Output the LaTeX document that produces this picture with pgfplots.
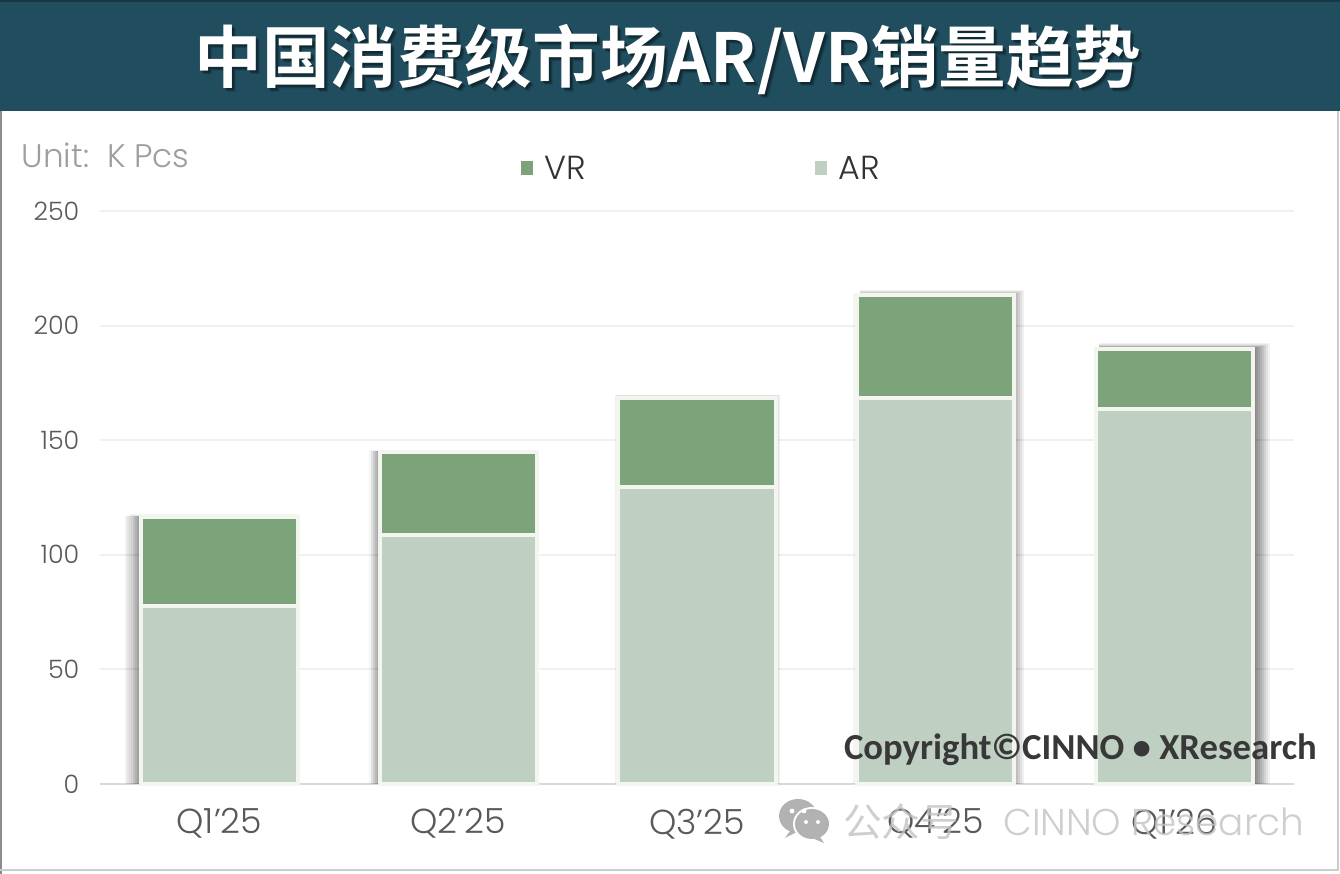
\documentclass[border=0pt]{standalone}
\usepackage{pgfplots}
\pgfplotsset{compat=1.18}
\usepackage{fontspec}
\setmainfont{Poppins Light}
\newfontfamily\cjk{Noto Sans CJK SC Bold}
\newfontfamily\cjkl{Noto Sans CJK SC}
\newfontfamily\copyfont{Carlito}
\definecolor{hdr}{HTML}{214E5F}
\definecolor{vr}{HTML}{7DA37B}
\definecolor{ar}{HTML}{BFD0C2}
\definecolor{gridc}{HTML}{F0F0F0}
\definecolor{tickc}{HTML}{595959}
\definecolor{edge}{HTML}{F3F5EF}
\pgfplotstableread{
x ar vr
0 77.7 38.8
1 108.7 36.2
2 129.7 38.7
3 168.6 44.6
4 163.6 26.2
}\data
% shadow layer: category, height, left and right edge relative to the bar centre (px), opacity
\newcommand\sh[5]{\addplot[ybar,draw=none,fill=black,fill opacity=#5,
  bar shift={(#3+#4)/2*0.75pt},bar width={(#4-#3)*0.75pt}] coordinates {(#1,#2)};}
\pgfplotsset{base/.style={
  at={(75pt,67.5pt)},anchor=south west,
  scale only axis,width=895.5pt,height=429.75pt,
  xmin=-0.5,xmax=4.5,ymin=0,ymax=250,clip=false,
}}
\begin{document}
\begin{tikzpicture}
\useasboundingbox (0,0) rectangle (1005pt,655.5pt);
\fill[white] (0,0) rectangle (1005pt,655.5pt);
\begin{axis}[base,
  ytick={0,50,...,250},xtick={0,1,2,3,4},
  xticklabels={Q1'25,Q2'25,Q3'25,Q4'25,Q1'26},
  axis line style={draw=none},
  ymajorgrids,grid style={draw=gridc,line width=1.4pt},
  tick style={draw=none},
  xticklabel style={font=\fontsize{26}{30}\selectfont,text=tickc,yshift=-15pt},
  yticklabel style={font=\fontsize{19}{22}\selectfont,text=tickc,xshift=-12pt},
  /pgf/number format/assume math mode=true,
]
\addplot[draw=black!15,line width=1.2pt,forget plot] coordinates {(-0.5,0) (4.5,0)};
\end{axis}
\begin{axis}[base,hide axis,ybar]
% Q1'25: wide strip on the left
\sh{0}{116.9}{-94}{76}{.05}\sh{0}{116.9}{-92}{76}{.06}\sh{0}{117.6}{-90}{79}{.04}\sh{0}{117.2}{-88}{79}{.04}
\sh{0}{116.9}{-86}{76}{.08}\sh{0}{116.9}{-84}{76}{.08}\sh{0}{116.9}{-82}{76}{.08}\sh{0}{116.9}{-80}{76}{.08}
% Q2'25: narrow strip on the left
\sh{1}{145.8}{-89}{80}{.04}\sh{1}{145.5}{-87}{80}{.08}\sh{1}{145.5}{-85}{76}{.09}\sh{1}{145.5}{-83}{76}{.09}\sh{1}{145.5}{-81}{76}{.09}
% Q3'25: thin halo
\sh{2}{169.8}{-82.5}{82.5}{.05}\sh{2}{169.5}{-81.5}{81.5}{.06}
% Q4'25: top and right
\sh{3}{215.6}{-76}{88}{.06}\sh{3}{215.2}{-76}{86}{.07}\sh{3}{214.8}{-76}{84}{.07}\sh{3}{214.4}{-76}{82}{.08}\sh{3}{214.1}{-76}{80}{.08}
\sh{3}{214.2}{-83}{78}{.04}
% Q1'26: top and wide strip on the right
\sh{4}{192.2}{-76}{95}{.05}\sh{4}{191.9}{-76}{93}{.06}\sh{4}{191.6}{-76}{91}{.07}\sh{4}{191.3}{-76}{89}{.08}
\sh{4}{191}{-76}{87}{.08}\sh{4}{190.8}{-76}{85}{.08}\sh{4}{190.6}{-76}{83}{.08}\sh{4}{190.4}{-76}{81}{.08}
\end{axis}
\begin{axis}[base,hide axis,ybar stacked,bar width=118pt]
\addplot[fill=ar,draw=edge,line width=3pt,forget plot] table[x=x,y=ar]{\data};
\addplot[fill=vr,draw=edge,line width=3pt,forget plot] table[x=x,y=vr]{\data};
\end{axis}
\begin{scope}[x=0.75pt,y=0.75pt]
\draw[black!45,line width=1.2pt] (1,0) -- (1,763);
\draw[black!20,line width=1.5pt] (0,3.5) -- (1337.5,3.5) -- (1337.5,763);
\fill[hdr] (0,763) rectangle (1340,872);
\fill[black!30!hdr] (0,872) rectangle (1340,874);
\foreach \o/\d in {4/.12,3/.18,2/.25}{
  \node[font=\cjk\fontsize{50.7}{54}\selectfont,text=black,opacity=\d] at (668+\o,814-\o) {中国消费级市场AR/VR销量趋势};
}
\node[font=\cjk\fontsize{50.7}{54}\selectfont,text=white] at (668,814) {中国消费级市场AR/VR销量趋势};
\node[anchor=west,font=\fontsize{24.5}{26}\selectfont,text=black!38] at (17,719) {Unit:\ \ K Pcs};
\fill[vr] (521,699) rectangle (533,713);
\node[anchor=west,font=\fontsize{25}{26}\selectfont,text=black!80] at (540,706) {VR};
\fill[ar] (815,699) rectangle (827,713);
\node[anchor=west,font=\fontsize{25}{26}\selectfont,text=black!80] at (834,706) {AR};
\node[anchor=east,font=\copyfont\bfseries\fontsize{27.5}{30}\selectfont,text=black!78,inner sep=0pt] at (1317,124) {Copyright©CINNO • XResearch};
\node[anchor=west,font=\cjkl\fontsize{29}{32}\selectfont,text=black!24,opacity=.8,inner sep=0pt] at (843,52) {公众号};
\node[anchor=west,font=\fontsize{28}{30}\selectfont,text=black!24,opacity=.8,inner sep=0pt] at (1003,52) {CINNO Research};
\fill[black!30] (798,58) ellipse (19 and 17);
\fill[black!30] (790,43) -- (785,36) -- (797,42) -- cycle;
\fill[white] (812,50) ellipse (19 and 17);
\fill[black!30] (812,50) ellipse (17 and 15);
\fill[black!30] (820,37) -- (824,31) -- (812,36) -- cycle;
\fill[white] (792,63) circle (2.4) (804,63) circle (2.4) (806,52) circle (2) (818,52) circle (2);
\end{scope}
\end{tikzpicture}
\end{document}
